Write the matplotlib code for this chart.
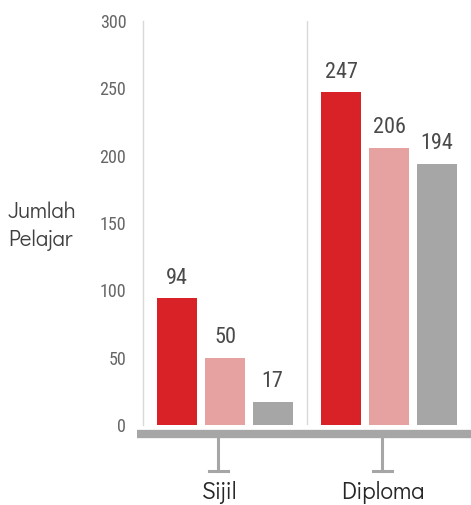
import matplotlib
matplotlib.use('Agg')
import matplotlib.pyplot as plt
from matplotlib.lines import Line2D
from matplotlib.transforms import blended_transform_factory
import numpy as np

# data
categories = ['Sijil', 'Diploma']
series_a = [94, 247]
series_b = [50, 206]
series_c = [17, 194]
y_ticks = [0, 50, 100, 150, 200, 250, 300]
y_label = 'Jumlah\nPelajar'

colors = ['#d92128', '#e6a1a1', '#a6a6a6']
num_font = ['Roboto Condensed', 'Liberation Sans', 'DejaVu Sans']
txt_font = ['Didact Gothic', 'Lato', 'DejaVu Sans']


def main():
    W, H = 471, 505
    fig = plt.figure(figsize=(W / 100, H / 100), dpi=100)
    ax = fig.add_axes([143 / W, 1 - 425 / H, 1 - 143 / W, (425 - 21) / H])

    x = np.arange(len(categories))
    width = 0.242
    step = 0.291
    for i, vals in enumerate([series_a, series_b, series_c]):
        bars = ax.bar(x + (i - 1) * step, vals, width, color=colors[i], zorder=2)
        for b, v in zip(bars, vals):
            ax.annotate(str(v), (b.get_x() + b.get_width() / 2, v),
                        xytext=(0, 7), textcoords='offset points',
                        ha='center', va='bottom', fontsize=16,
                        color='#4a4a4a', family=num_font)

    ax.set_xlim(-0.5, len(categories) - 0.5)
    ax.set_ylim(0, 300)
    ax.set_yticks(y_ticks)
    ax.set_yticklabels([str(t) for t in y_ticks], family=num_font,
                       fontsize=13, color='#666666')
    ax.tick_params(axis='y', length=0, pad=12)
    ax.set_xticks([])

    for s in ['top', 'right', 'bottom']:
        ax.spines[s].set_visible(False)
    ax.spines['left'].set_color('#d9d9d9')
    ax.spines['left'].set_linewidth(1)

    # separators between groups
    for k in range(1, len(categories)):
        ax.axvline(k - 0.5, color='#d9d9d9', lw=1, zorder=1)

    # thick base bar under the axes
    yb = 1 - 434 / H
    fig.add_artist(Line2D([137 / W, 1], [yb, yb], lw=6, color='#a6a6a6',
                          solid_capstyle='butt'))

    # T shaped category markers
    tr = blended_transform_factory(ax.transData, fig.transFigure)
    for xi, name in zip(x, categories):
        xc = xi - 0.04
        ax.add_line(Line2D([xc, xc], [1 - 438 / H, 1 - 471 / H], lw=2.2,
                           color='#a6a6a6', transform=tr, clip_on=False))
        ax.add_line(Line2D([xc - 0.058, xc + 0.058], [1 - 471 / H] * 2, lw=2.2,
                           color='#a6a6a6', transform=tr, clip_on=False))
        ax.text(xc, 1 - 493 / H, name, transform=tr, ha='center', va='center',
                fontsize=17, color='#262626', family=txt_font)

    fig.text(8 / W, 1 - 226 / H, y_label, ha='left', va='center', fontsize=16,
             color='#404040', family=txt_font, linespacing=1.4)

    fig.savefig('out.png', dpi=100)
    plt.close(fig)


if __name__ == "__main__":
    main()
